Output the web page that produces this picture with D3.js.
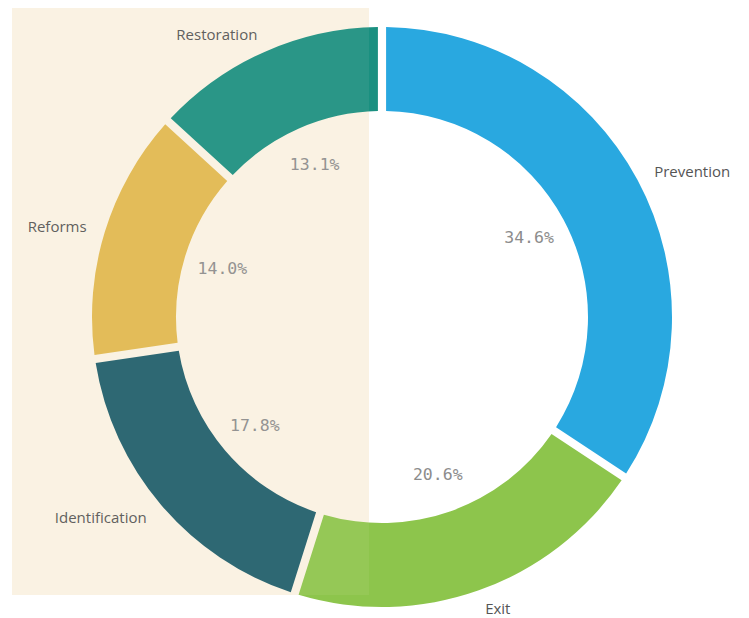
<!DOCTYPE html>
<html>
<head>
<meta charset="utf-8">
<script src="https://cdn.jsdelivr.net/npm/d3@7"></script>
<style>
  html, body { margin: 0; padding: 0; background: #ffffff; }
  svg { display: block; }
</style>
</head>
<body>
<svg id="chart" width="749" height="618"></svg>
<script>
// Share of programme budget by pillar
const categories = ["Prevention", "Exit", "Identification", "Reforms", "Restoration"];
const shares = [34.6, 20.6, 17.8, 14.0, 13.1];
const colors = ["#29a8e0", "#8dc54c", "#1f5e6b", "#e1b94f", "#1a9080"];

const W = 749, H = 618;
const cx = 382, cy = 317;
const outerR = 290, innerR = 206;

const svg = d3.select("#chart");

// Highlight panel behind the left half
const panel = { x: 12, y: 8, w: 357, h: 587 };
svg.append("rect")
  .attr("x", panel.x).attr("y", panel.y)
  .attr("width", panel.w).attr("height", panel.h)
  .attr("fill", "#faf3e3");

const data = categories.map((c, i) => ({ name: c, value: shares[i], color: colors[i] }));

const pie = d3.pie().value(d => d.value).sort(null).padAngle(0.023);
const arc = d3.arc().innerRadius(innerR).outerRadius(outerR);
const arcs = pie(data);

const g = svg.append("g").attr("transform", `translate(${cx},${cy})`);

g.selectAll("path.slice")
  .data(arcs)
  .join("path")
  .attr("class", "slice")
  .attr("d", arc)
  .attr("fill", d => d.data.color);

// Light tint of the panel over the ring
svg.append("rect")
  .attr("x", panel.x).attr("y", panel.y)
  .attr("width", panel.w).attr("height", panel.h)
  .attr("fill", "#faf3e3")
  .attr("opacity", 0.07);

// Percentage labels inside the ring
const pctR = 167;
g.selectAll("text.pct")
  .data(arcs)
  .join("text")
  .attr("class", "pct")
  .attr("x", d => pctR * Math.sin((d.startAngle + d.endAngle) / 2))
  .attr("y", d => -pctR * Math.cos((d.startAngle + d.endAngle) / 2))
  .attr("text-anchor", "middle")
  .attr("dominant-baseline", "central")
  .attr("font-family", "'DejaVu Sans Mono', monospace")
  .attr("font-size", 16.5)
  .attr("fill", "#8c8c8c")
  .text(d => d3.format(".1f")(d.data.value) + "%");

// Category labels outside the ring
const nameR = 309;
g.selectAll("text.name")
  .data(arcs)
  .join("text")
  .attr("class", "name")
  .attr("x", d => nameR * Math.sin((d.startAngle + d.endAngle) / 2))
  .attr("y", d => -nameR * Math.cos((d.startAngle + d.endAngle) / 2))
  .attr("text-anchor", d => Math.sin((d.startAngle + d.endAngle) / 2) >= 0 ? "start" : "end")
  .attr("dominant-baseline", "central")
  .attr("font-family", "'Open Sans', 'Noto Sans', sans-serif")
  .attr("font-size", 15)
  .attr("fill", "#555555")
  .text(d => d.data.name);
</script>
</body>
</html>
